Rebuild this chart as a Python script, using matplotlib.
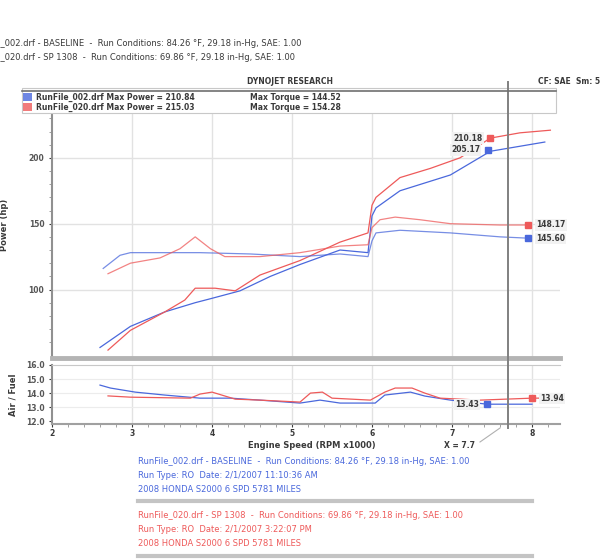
import matplotlib
matplotlib.use("Agg")
import matplotlib.pyplot as plt
from matplotlib.lines import Line2D
from matplotlib.patches import Rectangle

# ---- data (rpm x1000) ----
base_pwr_rpm = [2.6, 2.98, 3.41, 3.79, 3.98, 4.35, 4.73, 5.1, 5.6, 5.95, 6.0, 6.05, 6.35, 6.98, 7.48, 8.16]
base_pwr = [56, 72, 83, 90, 93, 99, 110, 119, 130, 128, 156, 162, 175, 187, 205, 212]
sp_pwr_rpm = [2.7, 2.98, 3.41, 3.66, 3.79, 4.04, 4.29, 4.6, 5.1, 5.6, 5.95, 6.0, 6.05, 6.35, 6.73, 7.1, 7.48, 7.85, 8.23]
sp_pwr = [54, 69, 83, 92, 101, 101, 99, 111, 122, 136, 143, 164, 170, 185, 192, 200, 215, 219, 221]

base_tq_rpm = [2.64, 2.85, 2.98, 3.85, 4.48, 5.1, 5.6, 5.95, 6.0, 6.05, 6.35, 6.98, 7.6, 7.95]
base_tq = [116, 126, 128, 128, 127, 125, 127, 125, 137, 143, 145, 143, 140, 139]
sp_tq_rpm = [2.7, 2.98, 3.35, 3.6, 3.79, 3.98, 4.16, 4.6, 5.1, 5.6, 5.95, 6.0, 6.1, 6.29, 6.6, 6.98, 7.6, 7.95]
sp_tq = [112, 120, 124, 131, 140, 131, 125, 125, 128, 133, 134, 147, 153, 155, 153, 150, 149, 149]

base_afr_rpm = [2.6, 2.73, 3.04, 3.41, 3.85, 4.23, 4.6, 5.1, 5.35, 5.6, 6.04, 6.16, 6.48, 6.66, 6.98, 7.44, 8.0]
base_afr = [14.57, 14.36, 14.07, 13.86, 13.64, 13.64, 13.5, 13.29, 13.5, 13.29, 13.29, 13.86, 14.07, 13.79, 13.5, 13.21, 13.21]
sp_afr_rpm = [2.7, 2.98, 3.73, 3.85, 4.0, 4.29, 4.6, 5.1, 5.23, 5.38, 5.5, 5.98, 6.16, 6.29, 6.5, 6.66, 6.85, 7.35, 8.0, 8.16]
sp_afr = [13.8, 13.71, 13.64, 13.93, 14.07, 13.57, 13.5, 13.36, 14.0, 14.07, 13.64, 13.5, 14.07, 14.36, 14.36, 14.0, 13.64, 13.5, 13.64, 13.64]

# cursor readouts
mk_pwr = [(7.48, 215, "210.18", "sp"), (7.45, 206, "205.17", "base")]
mk_tq = [(7.95, 149, "148.17", "sp"), (7.95, 139, "145.60", "base")]
mk_afr = [(7.44, 13.21, "13.43", "base"), (8.0, 13.64, "13.94", "sp")]
cursor_x = 7.7

BLUE = "#4a68dc"
RED = "#ee5a5a"
TXT = "#3a3a3a"
col = {"base": BLUE, "sp": RED}

W, H = 600, 560
fig = plt.figure(figsize=(6, 5.6), dpi=100)

def fx(px):
    return px / W

def fy(py):
    return 1 - py / H

ax = fig.add_axes([fx(52), fy(358), fx(508), (358 - 92) / H])
ax2 = fig.add_axes([fx(52), fy(424), fx(508), (424 - 365) / H])

for a in (ax, ax2):
    a.set_xlim(2, 8.35)
    a.spines["right"].set_visible(False)
    a.spines["top"].set_visible(False)
    a.spines["left"].set_color("#909090")
    a.spines["left"].set_linewidth(1.5)
    a.tick_params(colors=TXT, labelsize=5.5, length=2, width=0.8)
    for x in range(3, 9):
        a.axvline(x, color="#e2e2e2", lw=1, zorder=0)

ax.set_ylim(48, 250)
ax.set_yticks([100, 150, 200])
ax.set_yticklabels(["100", "150", "200"], fontweight="bold", color="#555555")
ax.set_yticks(range(60, 250, 10), minor=True)
ax.tick_params(axis="y", which="minor", length=2, color="#909090")
for y in (100, 150, 200):
    ax.axhline(y, color="#e2e2e2", lw=1, zorder=0)
ax.set_xticks([])
ax.spines["bottom"].set_color("#b4b4b4")
ax.spines["bottom"].set_linewidth(3.5)
ax.set_ylabel("Power (hp)", fontsize=6, fontweight="bold", color=TXT, labelpad=14)

ax.plot(base_pwr_rpm, base_pwr, color=BLUE, lw=0.9)
ax.plot(sp_pwr_rpm, sp_pwr, color=RED, lw=0.9)
ax.plot(base_tq_rpm, base_tq, color=BLUE, lw=0.9, alpha=0.75)
ax.plot(sp_tq_rpm, sp_tq, color=RED, lw=0.9, alpha=0.75)

box = dict(boxstyle="square,pad=0.15", fc="#f2f2f2", ec="none")
for x, y, s, k in mk_pwr:
    ax.plot(x, y, "s", color=col[k], ms=4.5)
    ax.text(x - 0.1, y, s, ha="right", va="center", fontsize=5.5, fontweight="bold", color=TXT, bbox=box)
for x, y, s, k in mk_tq:
    ax.plot(x, y, "s", color=col[k], ms=4.5)
    ax.text(x + 0.1, y, s, ha="left", va="center", fontsize=5.5, fontweight="bold", color=TXT, bbox=box)

ax2.set_ylim(11.8, 16)
ax2.set_yticks([12, 13, 14, 15, 16])
ax2.set_yticklabels(["12.0", "13.0", "14.0", "15.0", "16.0"], fontweight="bold", color="#555555")
for y in (13, 14, 15):
    ax2.axhline(y, color="#ececec", lw=0.8, zorder=0)
ax2.set_xticks(range(2, 9))
ax2.set_xticklabels([str(i) for i in range(2, 9)], fontweight="bold")
ax2.set_xticks([2 + i * 0.2 for i in range(32)], minor=True)
ax2.tick_params(axis="x", which="minor", length=2, color="#909090")
ax2.tick_params(axis="x", which="major", pad=1.5)
ax2.spines["bottom"].set_color("#a0a0a0")
ax2.spines["bottom"].set_linewidth(1.5)
ax2.spines["top"].set_visible(True)
ax2.spines["top"].set_color("#c8c8c8")
ax2.set_ylabel("Air / Fuel", fontsize=6, fontweight="bold", color=TXT, labelpad=6)
ax2.plot(base_afr_rpm, base_afr, color=BLUE, lw=0.9)
ax2.plot(sp_afr_rpm, sp_afr, color=RED, lw=0.9)
for x, y, s, k in mk_afr:
    ax2.plot(x, y, "s", color=col[k], ms=4.5)
    if k == "base":
        ax2.text(x - 0.1, y, s, ha="right", va="center", fontsize=5.5, fontweight="bold", color=TXT, bbox=box)
    else:
        ax2.text(x + 0.1, y, s, ha="left", va="center", fontsize=5.5, fontweight="bold", color=TXT, bbox=box)

# cursor line across both panels
cx = fx(52 + (cursor_x - 2) * 80)
fig.add_artist(Line2D([cx, cx], [fy(82), fy(428)], color="#808080", lw=1.4))
fig.add_artist(Line2D([cx - fx(8), cx - fx(28)], [fy(428), fy(442)], color="#b0b0b0", lw=0.8))
fig.text(fx(444), fy(445), "X = 7.7", fontsize=5.5, fontweight="bold", color=TXT, va="center")
fig.text(fx(312), fy(445), "Engine Speed (RPM x1000)", fontsize=6, fontweight="bold", color=TXT,
         ha="center", va="center")

# legend box
fig.add_artist(Rectangle((fx(22), fy(113)), fx(534), (113 - 88) / H, fc="white", ec="#c8c8c8", lw=0.8))
fig.add_artist(Line2D([fx(22), fx(556)], [fy(91), fy(91)], color="#707070", lw=1.2))
leg = [("RunFile_002.drf Max Power = 210.84", "Max Torque = 144.52", BLUE),
       ("RunFile_020.drf Max Power = 215.03", "Max Torque = 154.28", RED)]
for i, (a_, b_, c_) in enumerate(leg):
    yy = fy(97 + i * 10)
    fig.add_artist(Rectangle((fx(23), yy - 4 / H), fx(9), 8 / H, fc=c_, ec="none", alpha=0.8))
    fig.text(fx(36), yy, a_, fontsize=5.5, fontweight="bold", color=TXT, va="center")
    fig.text(fx(250), yy, b_, fontsize=5.5, fontweight="bold", color=TXT, va="center")

fig.text(fx(290), fy(82), "DYNOJET RESEARCH", fontsize=5.5, fontweight="bold", color=TXT, ha="center", va="center")
fig.text(fx(538), fy(82), "CF: SAE  Sm: 5", fontsize=5.5, fontweight="bold", color=TXT, va="center")

# header lines (cut at left edge, as in the source image)
fig.text(fx(-30), fy(44), "RunFile_002.drf - BASELINE  -  Run Conditions: 84.26 °F, 29.18 in-Hg, SAE: 1.00",
         fontsize=6, color=TXT, va="center")
fig.text(fx(-30), fy(58), "RunFile_020.drf - SP 1308  -  Run Conditions: 69.86 °F, 29.18 in-Hg, SAE: 1.00",
         fontsize=6, color=TXT, va="center")

# run info block
info_base = ["RunFile_002.drf - BASELINE  -  Run Conditions: 84.26 °F, 29.18 in-Hg, SAE: 1.00",
             "Run Type: RO  Date: 2/1/2007 11:10:36 AM",
             "2008 HONDA S2000 6 SPD 5781 MILES"]
info_sp = ["RunFile_020.drf - SP 1308  -  Run Conditions: 69.86 °F, 29.18 in-Hg, SAE: 1.00",
           "Run Type: RO  Date: 2/1/2007 3:22:07 PM",
           "2008 HONDA S2000 6 SPD 5781 MILES"]
for i, s in enumerate(info_base):
    fig.text(fx(138), fy(462 + i * 14), s, fontsize=6, color=BLUE, va="center")
for i, s in enumerate(info_sp):
    fig.text(fx(138), fy(516 + i * 14), s, fontsize=6, color=RED, va="center")
for yb in (501, 556):
    fig.add_artist(Line2D([fx(138), fx(532)], [fy(yb), fy(yb)], color="#c4c4c4", lw=3))

fig.savefig("out.png", dpi=100)
